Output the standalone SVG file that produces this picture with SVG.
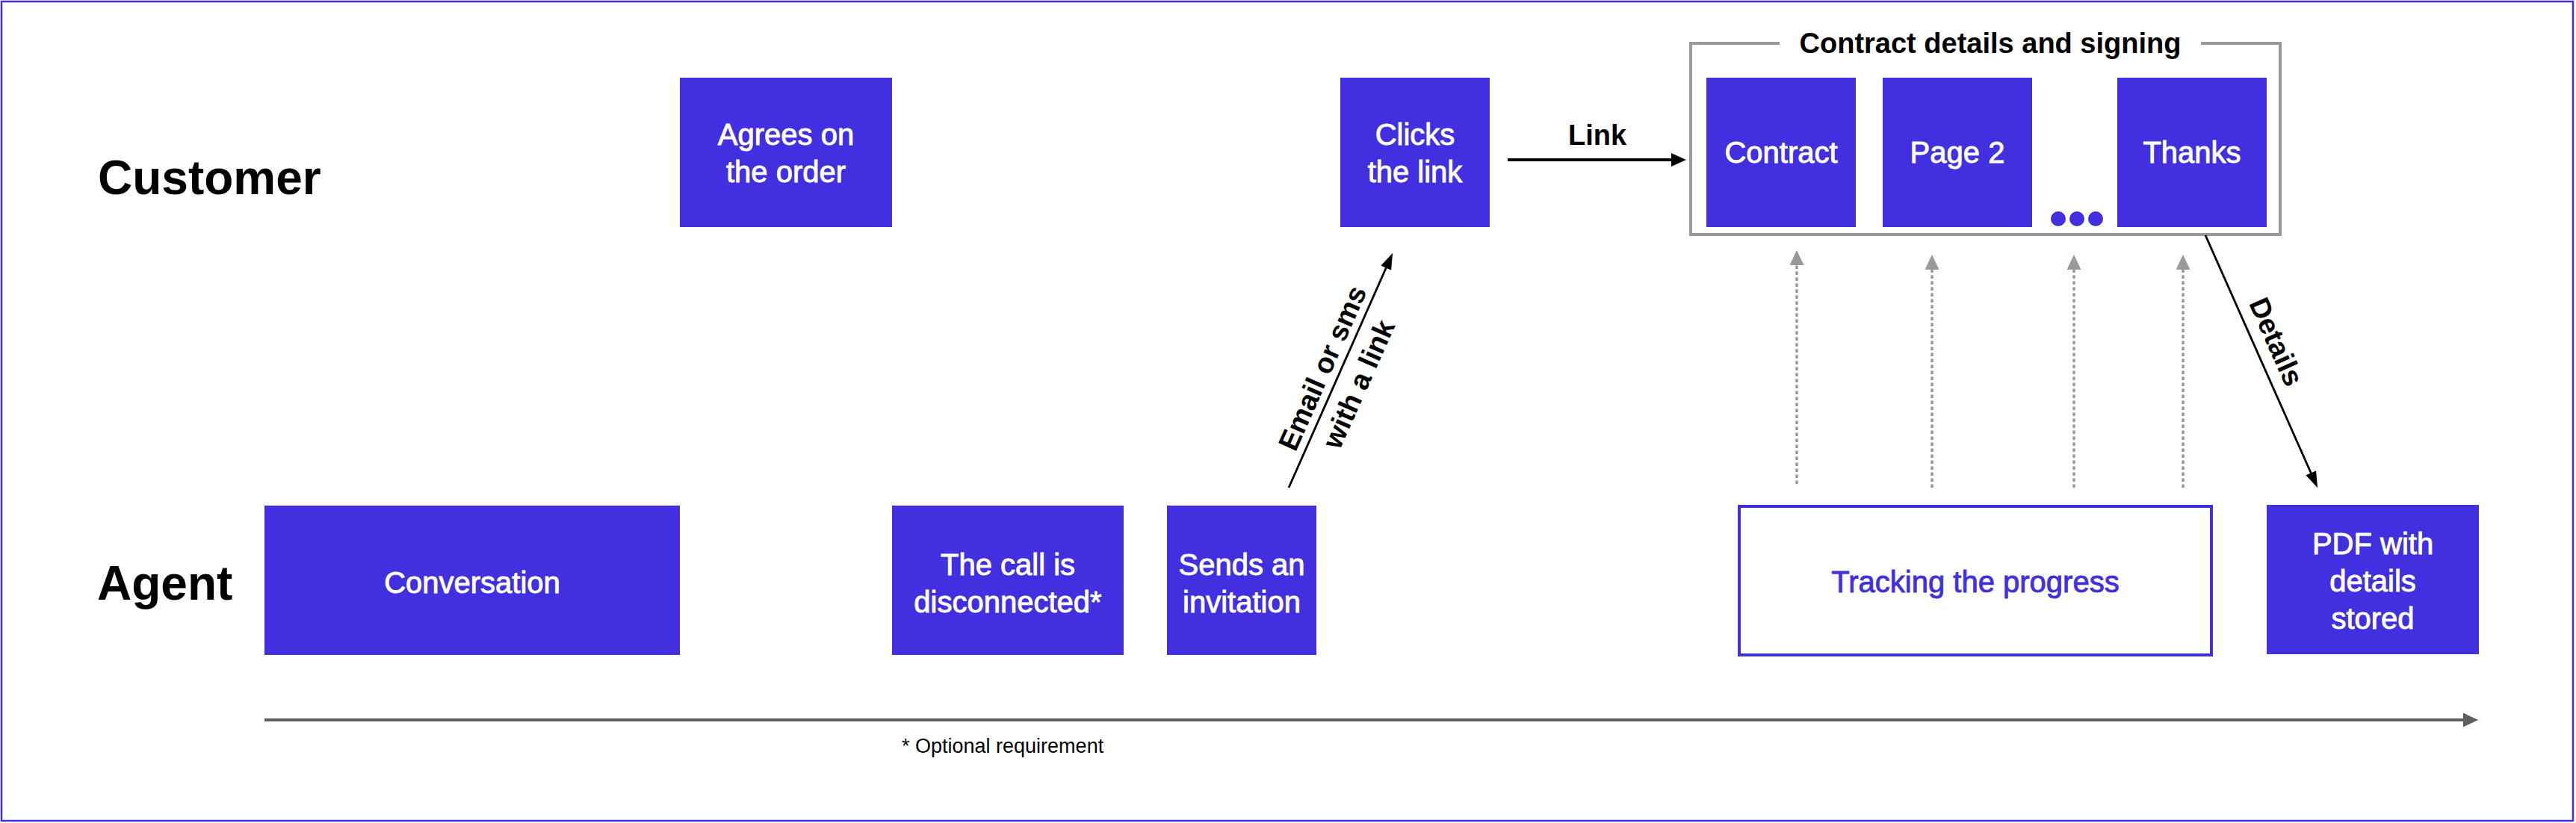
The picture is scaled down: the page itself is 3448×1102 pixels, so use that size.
<svg xmlns="http://www.w3.org/2000/svg" width="3448" height="1102" viewBox="0 0 3448 1102">
<style>
.node{fill:#4230E0}
.nt{font-family:"Liberation Sans",Arial,sans-serif;font-size:40px;fill:#fff;text-anchor:middle;stroke:#fff;stroke-width:0.9px}
.lane{font-family:"Liberation Sans",Arial,sans-serif;font-size:64px;font-weight:bold;fill:#000}
.lbl{font-family:"Liberation Sans",Arial,sans-serif;font-size:38px;font-weight:bold;fill:#000;text-anchor:middle}
.note{font-family:"Liberation Sans",Arial,sans-serif;font-size:27px;fill:#000}
.dash{stroke:#999;stroke-width:3.5;stroke-dasharray:4.5 3.5;fill:none}
.solid{stroke:#000;fill:none}
</style>
<defs>
<marker id="ahBlack" markerUnits="userSpaceOnUse" viewBox="0 0 20 18" markerWidth="20" markerHeight="18" refX="2" refY="9" orient="auto"><path d="M0,0 L20,9 L0,18 z" fill="#000"/></marker>
<marker id="ahThin" markerUnits="userSpaceOnUse" viewBox="0 0 22 15" markerWidth="22" markerHeight="15" refX="2" refY="7.5" orient="auto"><path d="M0,0 L22,7.5 L0,15 z" fill="#000"/></marker>
<marker id="ahGray" markerUnits="userSpaceOnUse" viewBox="0 0 20 19" markerWidth="20" markerHeight="19" refX="2" refY="9.5" orient="auto"><path d="M0,0 L20,9.5 L0,19 z" fill="#999"/></marker>
<marker id="ahDark" markerUnits="userSpaceOnUse" viewBox="0 0 20 19" markerWidth="20" markerHeight="19" refX="2" refY="9.5" orient="auto"><path d="M0,0 L20,9.5 L0,19 z" fill="#5f5f5f"/></marker>
</defs>
<rect x="0" y="0" width="3448" height="1102" fill="#fff"/>
<rect x="2" y="2" width="3442" height="1097" fill="none" stroke="#4230E0" stroke-width="2.5"/>

<g id="lanes">
<text class="lane" x="131" y="260">Customer</text>
<text class="lane" x="130" y="803">Agent</text>
</g>

<g id="group-contract">
<path d="M2382,58 H2263 V314 H3052 V58 H2946" fill="none" stroke="#999" stroke-width="4"/>
<text class="lbl" x="2664" y="71" font-size="40">Contract details and signing</text>
<circle cx="2755" cy="293" r="10" fill="#4230E0"/>
<circle cx="2780" cy="293" r="10" fill="#4230E0"/>
<circle cx="2805" cy="293" r="10" fill="#4230E0"/>
</g>

<g id="node-agrees"><rect class="node" x="910" y="104" width="284" height="200"/><text class="nt" x="1052" y="194">Agrees on</text><text class="nt" x="1052" y="244">the order</text></g>
<g id="node-clicks"><rect class="node" x="1794" y="104" width="200" height="200"/><text class="nt" x="1894" y="194">Clicks</text><text class="nt" x="1894" y="244">the link</text></g>
<g id="node-contract"><rect class="node" x="2284" y="104" width="200" height="200"/><text class="nt" x="2384" y="218">Contract</text></g>
<g id="node-page2"><rect class="node" x="2520" y="104" width="200" height="200"/><text class="nt" x="2620" y="218">Page 2</text></g>
<g id="node-thanks"><rect class="node" x="2834" y="104" width="200" height="200"/><text class="nt" x="2934" y="218">Thanks</text></g>

<g id="node-conversation"><rect class="node" x="354" y="677" width="556" height="200"/><text class="nt" x="632" y="794">Conversation</text></g>
<g id="node-disconnected"><rect class="node" x="1194" y="677" width="310" height="200"/><text class="nt" x="1349" y="770">The call is</text><text class="nt" x="1349" y="820">disconnected*</text></g>
<g id="node-sends"><rect class="node" x="1562" y="677" width="200" height="200"/><text class="nt" x="1662" y="770">Sends an</text><text class="nt" x="1662" y="820">invitation</text></g>
<g id="node-tracking"><rect x="2328" y="678" width="632" height="199" fill="#fff" stroke="#4230E0" stroke-width="4"/><text class="nt" x="2644" y="793" style="fill:#4230E0;stroke:#4230E0">Tracking the progress</text></g>
<g id="node-pdf"><rect class="node" x="3034" y="676" width="284" height="200"/><text class="nt" x="3176" y="742">PDF with</text><text class="nt" x="3176" y="792">details</text><text class="nt" x="3176" y="842">stored</text></g>

<g id="connectors">
<line class="solid" x1="2018" y1="214" x2="2239" y2="214" stroke-width="4" marker-end="url(#ahBlack)"/>
<text class="lbl" x="2138" y="194">Link</text>
<line class="solid" x1="1725" y1="653" x2="1856" y2="357" stroke-width="2.8" marker-end="url(#ahThin)"/>
<g transform="translate(1782,498) rotate(-66)">
<text class="lbl" x="0" y="0" font-size="40">Email or sms</text>
<text class="lbl" x="0" y="53" font-size="40">with a link</text>
</g>
<line class="solid" x1="2952" y1="315" x2="3094" y2="635" stroke-width="2.8" marker-end="url(#ahThin)"/>
<text class="lbl" transform="translate(3035,463) rotate(66)" x="0" y="0">Details</text>
<line class="dash" x1="2405" y1="648" x2="2405" y2="353" marker-end="url(#ahGray)"/>
<line class="dash" x1="2586" y1="653" x2="2586" y2="359" marker-end="url(#ahGray)"/>
<line class="dash" x1="2776" y1="653" x2="2776" y2="359" marker-end="url(#ahGray)"/>
<line class="dash" x1="2922" y1="653" x2="2922" y2="359" marker-end="url(#ahGray)"/>
<line x1="354" y1="964" x2="3299" y2="964" stroke="#5f5f5f" stroke-width="4" marker-end="url(#ahDark)"/>
</g>
<text class="note" x="1207" y="1008">* Optional requirement</text>
</svg>
